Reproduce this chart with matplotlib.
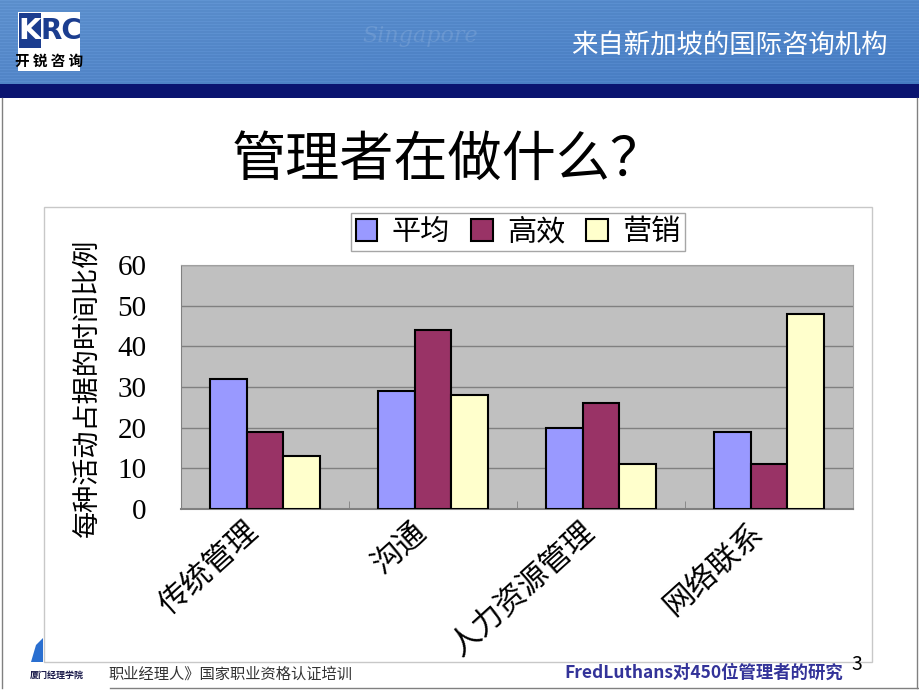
import numpy as np
import matplotlib
matplotlib.use('Agg')
from matplotlib import pyplot as plt, patches

plt.rcParams['font.family'] = ['Noto Sans CJK SC', 'DejaVu Sans']

CATEGORIES = ['传统管理', '沟通', '人力资源管理', '网络联系']
SERIES = ['平均', '高效', '营销']
AVERAGE = [32, 29, 20, 19]
EFFECTIVE = [19, 44, 26, 11]
MARKETING = [13, 28, 11, 48]
COLORS = ['#9999ff', '#993366', '#ffffcc']
Y_TICKS = [0, 10, 20, 30, 40, 50, 60]

W, H = 920, 690


def fx(px):
    return px / W


def fy(py):
    return 1 - py / H


fig = plt.figure(figsize=(9.2, 6.9), dpi=100)
fig.patch.set_facecolor('white')

# header band (gradient + navy strip)
bg = fig.add_axes([0, 0, 1, 1], zorder=-5)
bg.set_xlim(0, W)
bg.set_ylim(H, 0)
bg.axis('off')
grad = np.linspace(0, 1, 256)[None, :]
rows = np.linspace(0, 1, 85)[:, None]
stripes = 0.03 * (np.arange(85)[:, None] % 3 == 0)
img = np.zeros((85, 256, 3))
img[..., 0] = 0.36 - 0.05 * grad + stripes - 0.04 * rows
img[..., 1] = 0.56 - 0.04 * grad + stripes - 0.04 * rows
img[..., 2] = 0.80 - 0.02 * grad + stripes - 0.02 * rows
bg.imshow(np.clip(img, 0, 1), extent=[0, W, 85, 0], aspect='auto')
bg.add_patch(patches.Rectangle((0, 84), W, 14, facecolor='#0a1470', linewidth=0))
bg.text(420, 36, 'Singapore', color='white', alpha=0.12, fontsize=16,
        style='italic', family='DejaVu Serif', ha='center', va='center')
bg.text(888, 46, '来自新加坡的国际咨询机构', color='white', fontsize=19,
        ha='right', va='center')

# logo
bg.add_patch(patches.Rectangle((18, 12), 62, 59, facecolor='white', linewidth=0))
bg.add_patch(patches.Rectangle((19, 13), 22, 35, facecolor='#1b3d8f', linewidth=0))
bg.text(30, 31, 'K', color='white', fontsize=21, fontweight='bold',
        ha='center', va='center', family='DejaVu Sans')
bg.text(61, 31, 'RC', color='#1b3d8f', fontsize=20, fontweight='bold',
        ha='center', va='center', family='DejaVu Sans')
bg.text(49, 61, '开 锐 咨 询', color='black', fontsize=10.5, fontweight='bold',
        ha='center', va='center')

# slide borders
bg.plot([2, 2], [98, 688], color='#808080', linewidth=1)
bg.plot([110, 918], [688, 688], color='#808080', linewidth=1)
bg.plot([917, 917], [98, 688], color='#808080', linewidth=1)

# title
bg.text(448, 160, '管理者在做什么？', color='black', fontsize=39,
        ha='center', va='center')

# chart frame
bg.add_patch(patches.Rectangle((44, 207), 828, 455, facecolor='white',
                               edgecolor='#c8c8c8', linewidth=1))

# footer
bg.add_patch(patches.Polygon([[31, 662], [43, 662], [43, 638], [36, 645]],
                             facecolor='#2a6fd0', linewidth=0))
bg.text(57, 675, '厦门经理学院', color='#1a1a4a', fontsize=6.5, fontweight='bold',
        ha='center', va='center')
bg.text(108, 674, '职业经理人》国家职业资格认证培训', color='#333333', fontsize=11,
        ha='left', va='center')
bg.text(843, 673, 'FredLuthans对450位管理者的研究', color='#333399', fontsize=12.5,
        fontweight='bold', ha='right', va='center')
bg.text(857, 664, '3', color='black', fontsize=14, ha='center', va='center')

# bar chart
ax = fig.add_axes([fx(181), fy(509), fx(853 - 181), (509 - 265) / H])
ax.set_facecolor('#c0c0c0')
x = np.arange(len(CATEGORIES))
width = 0.22
for i, (vals, name, col) in enumerate(zip([AVERAGE, EFFECTIVE, MARKETING], SERIES, COLORS)):
    ax.bar(x + (i - 1) * width, vals, width, color=col, edgecolor='black',
           linewidth=1.5, label=name, zorder=3)

ax.set_xlim(-0.5, len(CATEGORIES) - 0.5)
ax.set_ylim(0, 60)
ax.set_yticks(Y_TICKS)
ax.set_yticklabels([str(t) for t in Y_TICKS], family='Liberation Serif', fontsize=21)
ax.tick_params(axis='y', length=0, pad=25)
ax.yaxis.grid(True, color='#808080', linewidth=1, zorder=0)
ax.set_xticks(x - 0.06)
ax.set_xticklabels(CATEGORIES, rotation=42, ha='right', va='center',
                   rotation_mode='anchor', fontsize=22)
ax.tick_params(axis='x', length=0, pad=14)
ax.set_xticks(np.arange(0.5, len(CATEGORIES) - 0.5), minor=True)
ax.tick_params(axis='x', which='minor', direction='in', length=6, color='#808080')
for side in ['top', 'right']:
    ax.spines[side].set_color('#a0a0a0')
ax.spines['left'].set_color('#808080')
ax.spines['bottom'].set_color('#808080')
ax.spines['bottom'].set_linewidth(1.5)

fig.text(fx(87), fy(388), '每种活动占据的时间比例', rotation=90, fontsize=19.5,
         ha='center', va='center')

leg = ax.legend(loc='center', bbox_to_anchor=(fx(518), fy(232)),
                bbox_transform=fig.transFigure, ncol=3, fontsize=21,
                frameon=True, fancybox=False, edgecolor='#909090',
                handlelength=0.75, handleheight=0.75, handletextpad=0.5,
                columnspacing=0.7, borderpad=0.15)
leg.get_frame().set_linewidth(1)

fig.savefig('out.png', dpi=100)
